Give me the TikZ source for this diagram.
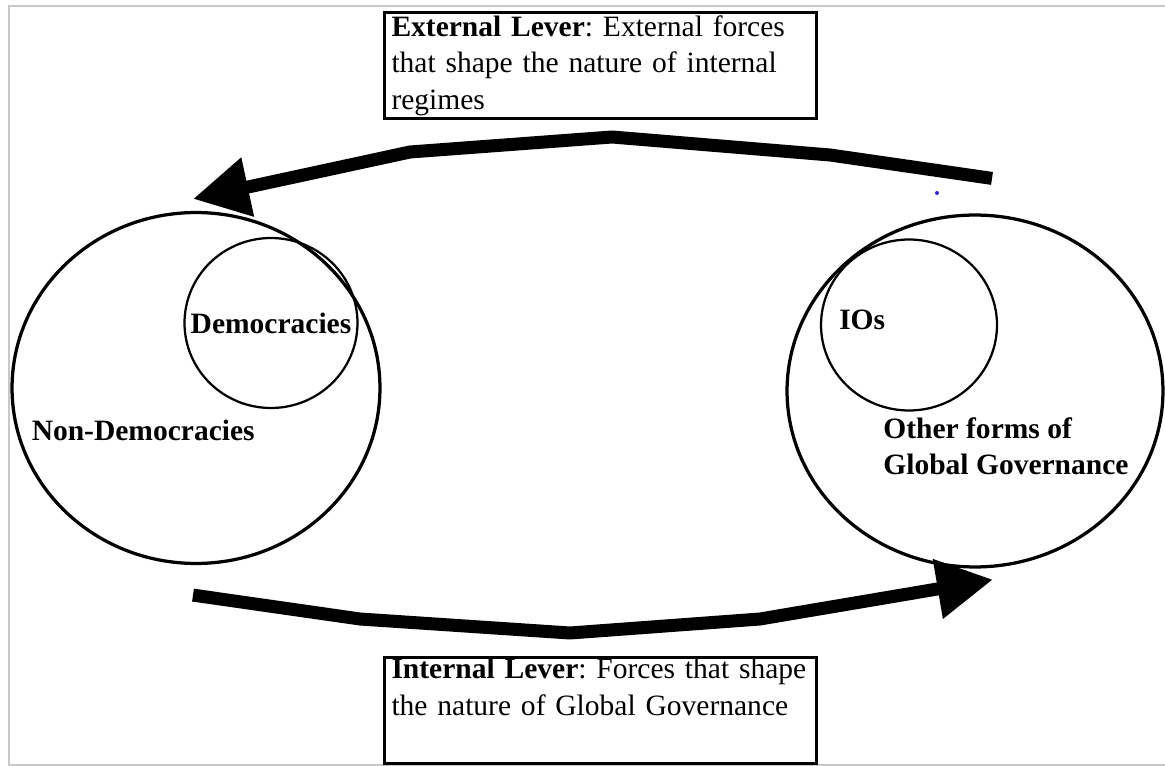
\documentclass[tikz,border=0pt]{standalone}
\usepackage{fontspec}
\setmainfont{Liberation Serif}
\usetikzlibrary{shapes.geometric,arrows.meta,calc,positioning}

\definecolor{framegray}{RGB}{200,200,200}
\definecolor{dotblue}{RGB}{40,40,235}

\tikzset{
  txt/.style = {font=\fontsize{16.8}{20.5}\selectfont\bfseries, inner sep=0pt},
  world/.style = {draw, ellipse, line width=0.065cm, inner sep=0pt},
  core/.style = {draw, ellipse, line width=0.045cm, inner sep=0pt},
  leverbox/.style = {draw, rectangle, line width=0.06cm, text width=8.36cm,
    align=left, minimum height=2.12cm, inner xsep=0.14cm, inner ysep=0pt,
    font=\fontsize{16.8}{20.8}\selectfont\frenchspacing},
  lever/.style = {line width=0.26cm, line join=round,
    -{Triangle[length=1.12cm,width=1.14cm]}},
}

\begin{document}
\begin{tikzpicture}[x=0.02cm, y=-0.02cm]
    \useasboundingbox (0,0) rectangle (1165,766);
    \draw[framegray, line width=0.04cm] (1165,6) -- (9,6) -- (9,765) -- (1165,765);

    % the two sides
    \node[world, minimum width=7.36cm, minimum height=7.02cm] (nondem) at (196,388) {};
    \node[core, minimum width=3.46cm, minimum height=3.40cm] (dem) at (271,323) {};
    \node[txt] (demlab) at (dem.center) {Democracies};
    \node[txt, anchor=west] (nondemlab) at ($(nondem.west) + (21,42)$) {Non-Democracies};

    \node[world, minimum width=7.52cm, minimum height=7.04cm] (ogg) at (975,391) {};
    \node[core, minimum width=3.52cm, minimum height=3.42cm] (ios) at (909,325) {};
    \node[txt, anchor=west] (ioslab) at ($(ios.west) + (19,-5)$) {IOs};
    \node[txt, anchor=west, align=left] (ogglab) at ($(ogg.center) + (-92,55)$)
      {Other forms of\\Global Governance};

    % the two levers
    \node[leverbox, anchor=north west] (ext) at (383,11)
      {\textbf{External Lever}: External forces\\that shape the nature of internal\\regimes};
    \node[leverbox, below=10.72cm of ext] (int)
      {\textbf{Internal Lever}: Forces that shape\\the nature of Global Governance\\\strut};

    \coordinate (exttail) at ($(ogg.north) + (17,-35)$);
    \coordinate (exthead) at ($(nondem.north) + (-3,-12)$);
    \coordinate (inttail) at ($(nondem.south) + (-3,30)$);
    \coordinate (inthead) at ($(ogg.south) + (18,11)$);

    \draw[lever] (exttail) -- (830,155) -- (612,137) -- (410,152) -- (exthead);
    \draw[lever] (inttail) -- (360,619) -- (570,633) -- (760,619) -- (inthead);

    \fill[dotblue] (937,193) circle (0.04cm);
\end{tikzpicture}
\end{document}
